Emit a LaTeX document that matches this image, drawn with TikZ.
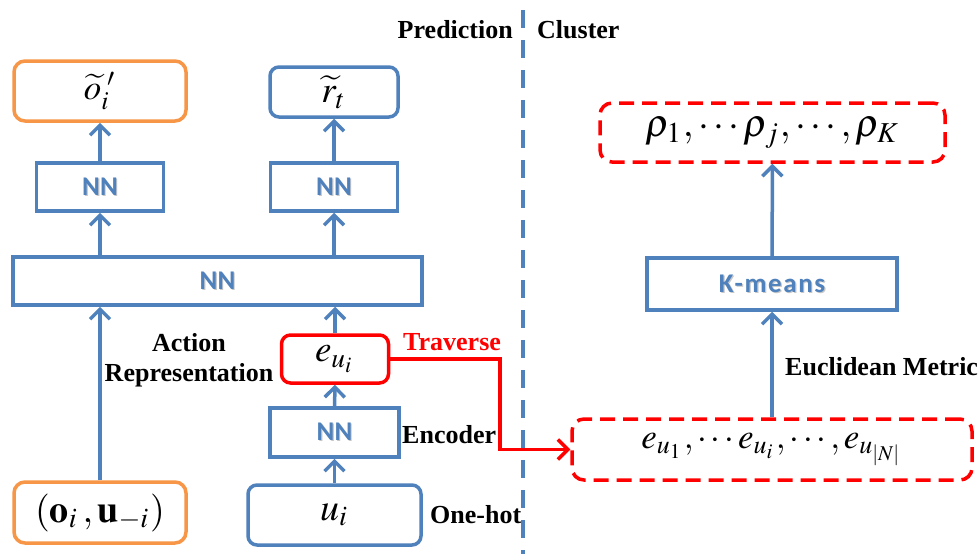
\documentclass[tikz,border=0pt]{standalone}
\usepackage{mathptmx}
\usepackage[no-math]{fontspec}
\setmainfont{Liberation Serif}
\newfontfamily\boxfont{Carlito}
\usetikzlibrary{arrows.meta,calc}
\definecolor{boxblue}{RGB}{79,129,189}
\definecolor{boxorange}{RGB}{247,150,70}
\definecolor{linkred}{RGB}{255,0,0}
% math set at 10pt and scaled up
\newcommand\mathsized[2]{\scalebox{#1}{\fontsize{10}{12}\selectfont$#2$}}
% box captions carry a soft grey shadow
\newcommand\shadowed[1]{\makebox[0pt][l]{\hspace{1.2pt}\raisebox{-1.3pt}{\textcolor{black!22}{#1}}}#1}
\tikzset{
  blk/.style={draw=boxblue,line width=3.5pt,fill=white,inner sep=0pt},
  rblk/.style={blk,rounded corners=9pt},
  oblk/.style={blk,draw=boxorange,rounded corners=11pt},
  eblk/.style={blk,draw=linkred,rounded corners=9pt},
  dblk/.style={blk,draw=linkred,dash pattern=on 15pt off 8pt,rounded corners=12pt},
  nnlab/.style={font=\boxfont\bfseries\fontsize{27}{32}\selectfont,text=boxblue},
  kmlab/.style={font=\boxfont\bfseries\fontsize{27}{32}\selectfont\addfontfeature{LetterSpace=6},text=boxblue},
  lab/.style={font=\bfseries\fontsize{26}{30}\selectfont,inner sep=0pt},
  up/.style={draw=boxblue,line width=3.5pt,-{Straight Barb[length=10pt,width=20pt]}},
  redarr/.style={draw=linkred,line width=3.5pt,-{Straight Barb[length=10pt,width=20pt]}},
  divider/.style={draw=boxblue,line width=3.5pt,dash pattern=on 18pt off 12pt}
}
\begin{document}
\begin{tikzpicture}[x=1pt,y=-1pt]
  \useasboundingbox (0,0) rectangle (979,554);
  \fill[white] (0,0) rectangle (979,554);

  % section divider and headings
  \coordinate (divtop) at (523,10);
  \coordinate (divbot) at (523,554);
  \draw[divider] (divtop) -- (divbot);
  \node[lab,anchor=east] (predlab) at (513,30) {Prediction};
  \node[lab,anchor=west] (clulab) at (537,30) {Cluster};

  % prediction branch
  \node[oblk,minimum width=172pt,minimum height=60pt] (otop) at (100,91) {\mathsized{3.5}{\widetilde{o}_i^{\;\prime}}};
  \node[rblk,minimum width=128pt,minimum height=50pt] (rtop) at (334,92) {\mathsized{3.7}{\widetilde{r}_t}};
  \node[blk,minimum width=127pt,minimum height=48pt,nnlab] (nnL) at (100,187) {\shadowed{NN}};
  \node[blk,minimum width=127pt,minimum height=48pt,nnlab] (nnR) at (334,187) {\shadowed{NN}};
  \node[blk,minimum width=409pt,minimum height=48pt,nnlab] (nnBig) at (217.5,281) {\shadowed{NN}};
  \node[eblk,minimum width=107pt,minimum height=48pt] (ebox) at (335,359) {\mathsized{3.7}{e_{u_i}}};
  \node[blk,minimum width=129pt,minimum height=49pt,nnlab] (enc) at (334.5,432.5) {\shadowed{NN}};
  \node[oblk,minimum width=172pt,minimum height=61pt] (obox) at (100,512.5) {\mathsized{3.8}{(\mathbf{o}_i\,,\mathbf{u}_{-i})}};
  \node[rblk,minimum width=173pt,minimum height=60pt] (ubox) at (334.5,515) {\mathsized{3.8}{u_i}};

  \draw[up] (nnL) -- (otop);
  \draw[up] (nnR) -- (rtop);
  \draw[up] (nnBig.north -| nnL.south) -- (nnL);
  \draw[up] (nnBig.north -| nnR.south) -- (nnR);
  \draw[up] (obox) -- (nnBig.south -| obox.north);
  \draw[up] (ebox) -- (nnBig.south -| ebox.north);
  \draw[up] (enc) -- (ebox);
  \draw[up] (ubox) -- (enc);

  \node[lab,align=center] (actlab) at (189,360) {Action\\Representation};
  \node[lab,anchor=west] (enclab) at (402,435) {Encoder};
  \node[lab,anchor=west] (onehot) at (430,515) {One-hot};

  % cluster branch
  \node[dblk,minimum width=345pt,minimum height=59pt] (rho) at (772.5,132.5) {\mathsized{3.9}{\rho_1,\cdots\rho_j,\cdots,\rho_K}};
  \node[blk,minimum width=250pt,minimum height=52pt,kmlab] (km) at (772,284) {\shadowed{K-means}};
  \node[dblk,minimum width=400pt,minimum height=61pt] (ebig) at (772,449.5) {\mathsized{3.5}{e_{u_1},\cdots e_{u_i},\cdots,e_{u_{|N|}}}};
  \draw[up] (km) -- (rho);
  \draw[up] (ebig.north -| km.south) -- (km);
  \node[lab,anchor=west] (euclab) at (785,367) {Euclidean Metric};

  % traversal of the embeddings
  \coordinate (bend) at (500,449.5);
  \draw[redarr] (ebox.east) -| (bend) -- (ebig.west);
  \node[lab,anchor=west,text=linkred] (travlab) at (403,342) {Traverse};
\end{tikzpicture}
\end{document}
